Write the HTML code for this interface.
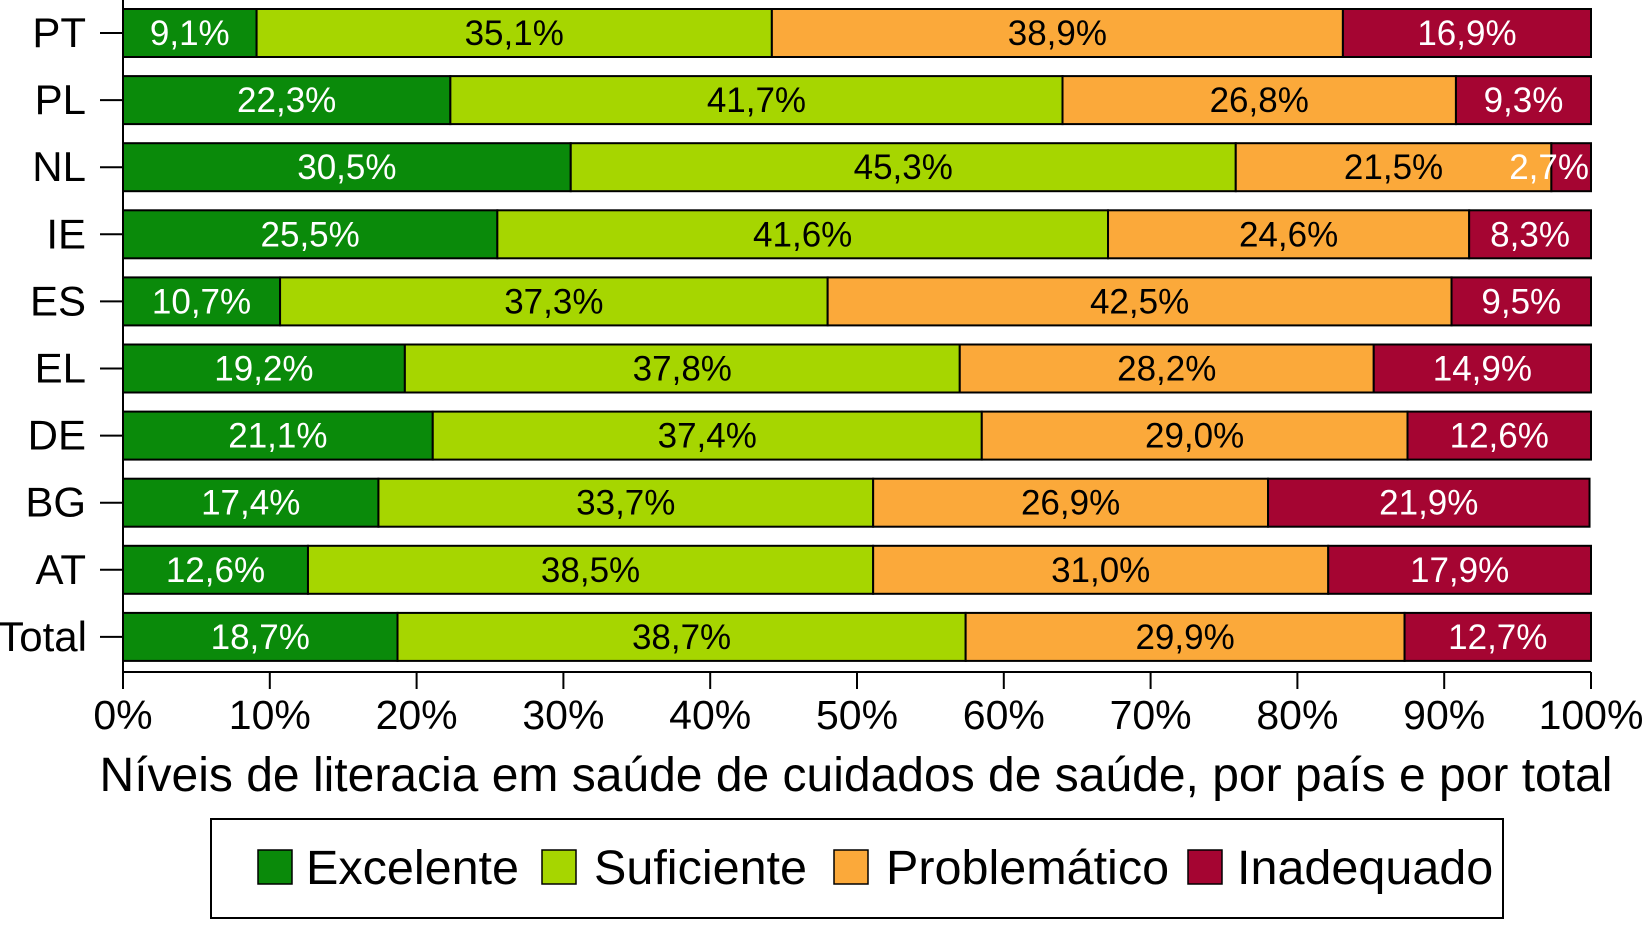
<!DOCTYPE html>
<html><head><meta charset="utf-8"><style>
html,body{margin:0;padding:0;background:#fff;}
svg text{font-family:"Liberation Sans",Arial,sans-serif;}
</style></head><body>
<svg id="chart" width="1644" height="920" xmlns="http://www.w3.org/2000/svg">
<g id="bars"></g>
<g id="axes"></g>
<text x="856" y="791" font-size="48" text-anchor="middle">Níveis de literacia em saúde de cuidados de saúde, por país e por total</text>
<g>
<rect x="211" y="819" width="1292" height="99" fill="#fff" stroke="#000" stroke-width="2"/>
<g><rect x="258" y="850" width="34" height="34" fill="#0a8a0a" stroke="#000" stroke-width="1.5"/><text x="306" y="884" font-size="48.5">Excelente</text></g>
<g><rect x="542" y="850" width="34" height="34" fill="#a6d600" stroke="#000" stroke-width="1.5"/><text x="594" y="884" font-size="48.5">Suficiente</text></g>
<g><rect x="834" y="850" width="34" height="34" fill="#fba93a" stroke="#000" stroke-width="1.5"/><text x="886" y="884" font-size="48.5">Problemático</text></g>
<g><rect x="1188" y="850" width="34" height="34" fill="#a50532" stroke="#000" stroke-width="1.5"/><text x="1237" y="884" font-size="48.5">Inadequado</text></g>
</g>
</svg>
<script>
const categories = ["PT","PL","NL","IE","ES","EL","DE","BG","AT","Total"];
const excelente = [9.1,22.3,30.5,25.5,10.7,19.2,21.1,17.4,12.6,18.7];
const suficiente = [35.1,41.7,45.3,41.6,37.3,37.8,37.4,33.7,38.5,38.7];
const problematico = [38.9,26.8,21.5,24.6,42.5,28.2,29.0,26.9,31.0,29.9];
const inadequado = [16.9,9.3,2.7,8.3,9.5,14.9,12.6,21.9,17.9,12.7];
const xTicks = [0,10,20,30,40,50,60,70,80,90,100];

const NS="http://www.w3.org/2000/svg";
const x0=123,x1=1591,top0=9,step=67.1,bh=48;
const xs=v=>x0+(x1-x0)*v/100;
const ys=i=>top0+i*step;
const series=[[excelente,"#0a8a0a","#fff","excelente"],[suficiente,"#a6d600","#000","suficiente"],[problematico,"#fba93a","#000","problematico"],[inadequado,"#a50532","#fff","inadequado"]];
const bars=document.getElementById("bars"),axes=document.getElementById("axes");
function mk(t,a,p){const e=document.createElementNS(NS,t);for(const k in a)e.setAttribute(k,a[k]);p.appendChild(e);return e;}
const fmt=v=>v.toFixed(1).replace(".",",")+"%";
categories.forEach((c,i)=>{
  let cum=0;
  series.forEach(([arr,col,tc,nm])=>{
    const v=arr[i],a=cum,b=cum+v;cum=b;
    const xa=xs(a),xb=xs(Math.min(b,100));
    const r=mk("rect",{x:xa,y:ys(i),width:xb-xa,height:bh,fill:col,stroke:"#000","stroke-width":2},bars);
    
    
    const narrow=(xb-xa)<70;
    const t=mk("text",{x:narrow?xb-2:(xa+xb)/2,y:ys(i)+bh/2+12,"font-size":35,"text-anchor":narrow?"end":"middle",fill:tc},bars);
    t.textContent=fmt(v);
    
    
  });
  mk("line",{x1:100,x2:x0,y1:ys(i)+bh/2,y2:ys(i)+bh/2,stroke:"#000","stroke-width":2},axes);
  const l=mk("text",{x:c==="Total"?87:86,y:ys(i)+bh/2+14,"font-size":42,"text-anchor":"end"},axes);
  l.textContent=c;
  
  
});
mk("line",{x1:x0,x2:x0,y1:0,y2:673,stroke:"#000","stroke-width":2},axes);
mk("line",{x1:x0,x2:x1,y1:672,y2:672,stroke:"#000","stroke-width":2},axes);
xTicks.forEach(v=>{
  mk("line",{x1:xs(v),x2:xs(v),y1:672,y2:689,stroke:"#000","stroke-width":2},axes);
  const t=mk("text",{x:xs(v),y:729,"font-size":41,"text-anchor":"middle"},axes);
  t.textContent=v+"%";
  
  
});
</script>
</body></html>
